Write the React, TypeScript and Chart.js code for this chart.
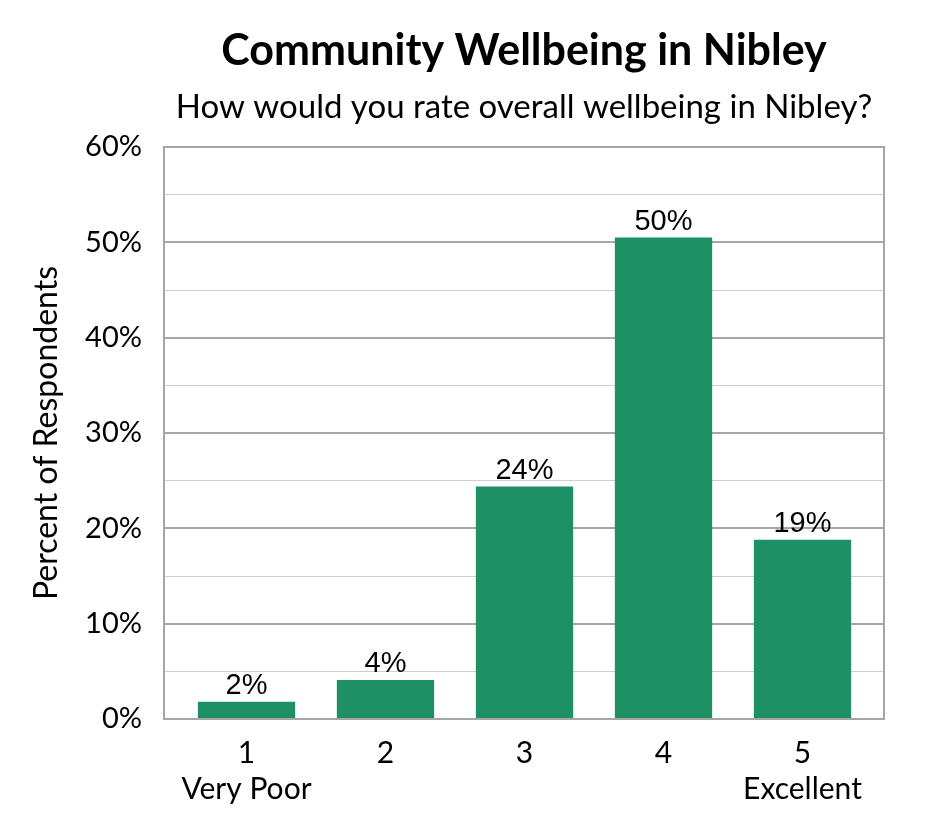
import { useEffect, useRef } from "react";
import { Chart, registerables, Plugin } from "chart.js";

Chart.register(...registerables);

const TITLE = "Community Wellbeing in Nibley";
const SUBTITLE = "How would you rate overall wellbeing in Nibley?";
const Y_TITLE = "Percent of Respondents";

const CATEGORIES: (string | string[])[] = [["1", "Very Poor"], "2", "3", "4", ["5", "Excellent"]];
const PERCENTS = [1.8, 4.1, 24.4, 50.5, 18.8];
const VALUE_LABELS = ["2%", "4%", "24%", "50%", "19%"];

const BAR_COLOR = "#1e9065";
const FONT = "Lato, 'Open Sans', sans-serif";

// titles centred over the plot area, like the original
const titlesPlugin: Plugin<"bar"> = {
  id: "titles",
  afterDraw(chart) {
    const { ctx, chartArea } = chart;
    const cx = (chartArea.left + chartArea.right) / 2;
    ctx.save();
    ctx.fillStyle = "#000";
    ctx.textAlign = "center";
    ctx.textBaseline = "middle";
    ctx.font = `bold 43px ${FONT}`;
    ctx.fillText(TITLE, cx, 43);
    ctx.font = `33px ${FONT}`;
    ctx.fillText(SUBTITLE, cx, 99);
    ctx.restore();
  },
};

// Excel leaves a little room between the plot edge and the first/last category
const xInsetPlugin: Plugin<"bar"> = {
  id: "xInset",
  afterLayout(chart) {
    const x: any = chart.scales.x;
    x._startPixel = x.left + 13;
    x._endPixel = x.right - 12;
    x._length = x._endPixel - x._startPixel;
  },
};

const borderPlugin: Plugin<"bar"> = {
  id: "plotBorder",
  afterDraw(chart) {
    const { ctx, chartArea } = chart;
    ctx.save();
    ctx.strokeStyle = "#a6a6a6";
    ctx.lineWidth = 2;
    ctx.strokeRect(chartArea.left, chartArea.top, chartArea.right - chartArea.left, chartArea.bottom - chartArea.top);
    ctx.restore();
  },
};

const valueLabelsPlugin: Plugin<"bar"> = {
  id: "valueLabels",
  afterDatasetsDraw(chart) {
    const { ctx } = chart;
    const meta = chart.getDatasetMeta(0);
    ctx.save();
    ctx.fillStyle = "#000";
    ctx.textAlign = "center";
    ctx.textBaseline = "bottom";
    ctx.font = "29px 'Liberation Sans', Arial, sans-serif";
    meta.data.forEach((bar, i) => {
      ctx.fillText(VALUE_LABELS[i], bar.x, bar.y - 1);
    });
    ctx.restore();
  },
};

export default function App() {
  const canvasRef = useRef<HTMLCanvasElement>(null);
  const chartRef = useRef<Chart | null>(null);

  useEffect(() => {
    if (!canvasRef.current) return;
    if (chartRef.current) chartRef.current.destroy();

    chartRef.current = new Chart(canvasRef.current, {
      type: "bar",
      data: {
        labels: CATEGORIES,
        datasets: [{
          data: PERCENTS,
          backgroundColor: BAR_COLOR,
          borderWidth: 0,
          categoryPercentage: 1,
          barPercentage: 0.7,
        }],
      },
      options: {
        animation: false,
        responsive: false,
        devicePixelRatio: 1,
        layout: { padding: { top: 139, right: 53, left: 10, bottom: 0 } },
        plugins: {
          legend: { display: false },
          tooltip: { enabled: false },
        },
        scales: {
          x: {
            grid: { display: false, drawTicks: false },
            border: { display: false },
            ticks: {
              color: "#000",
              font: { family: FONT, size: 30, lineHeight: 1.2 },
              padding: 16,
              maxRotation: 0,
              autoSkip: false,
            },
            afterFit: (s) => { s.height = 113; },
          },
          y: {
            min: 0,
            max: 60,
            grid: {
              drawTicks: false,
              color: (c) => (c.tick && c.tick.value % 10 === 0 ? "#a6a6a6" : "#d0d0d0"),
              lineWidth: (c) => (c.tick && c.tick.value % 10 === 0 ? 2 : 1),
            },
            border: { display: false },
            ticks: {
              stepSize: 5,
              color: "#000",
              font: { family: FONT, size: 29 },
              padding: 22,
              callback: (v) => (Number(v) % 10 === 0 ? `${v}%` : ""),
            },
            title: {
              display: true,
              text: Y_TITLE,
              color: "#000",
              font: { family: FONT, size: 32 },
              padding: { top: 9, bottom: 0 },
            },
            afterFit: (s) => { s.width = 146; },
          },
        },
      },
      plugins: [xInsetPlugin, titlesPlugin, borderPlugin, valueLabelsPlugin],
    });

    return () => {
      if (chartRef.current) {
        chartRef.current.destroy();
        chartRef.current = null;
      }
    };
  }, []);

  return (
    <div style={{ width: 929, height: 824 }}>
      <canvas ref={canvasRef} width={929} height={824} />
    </div>
  );
}
